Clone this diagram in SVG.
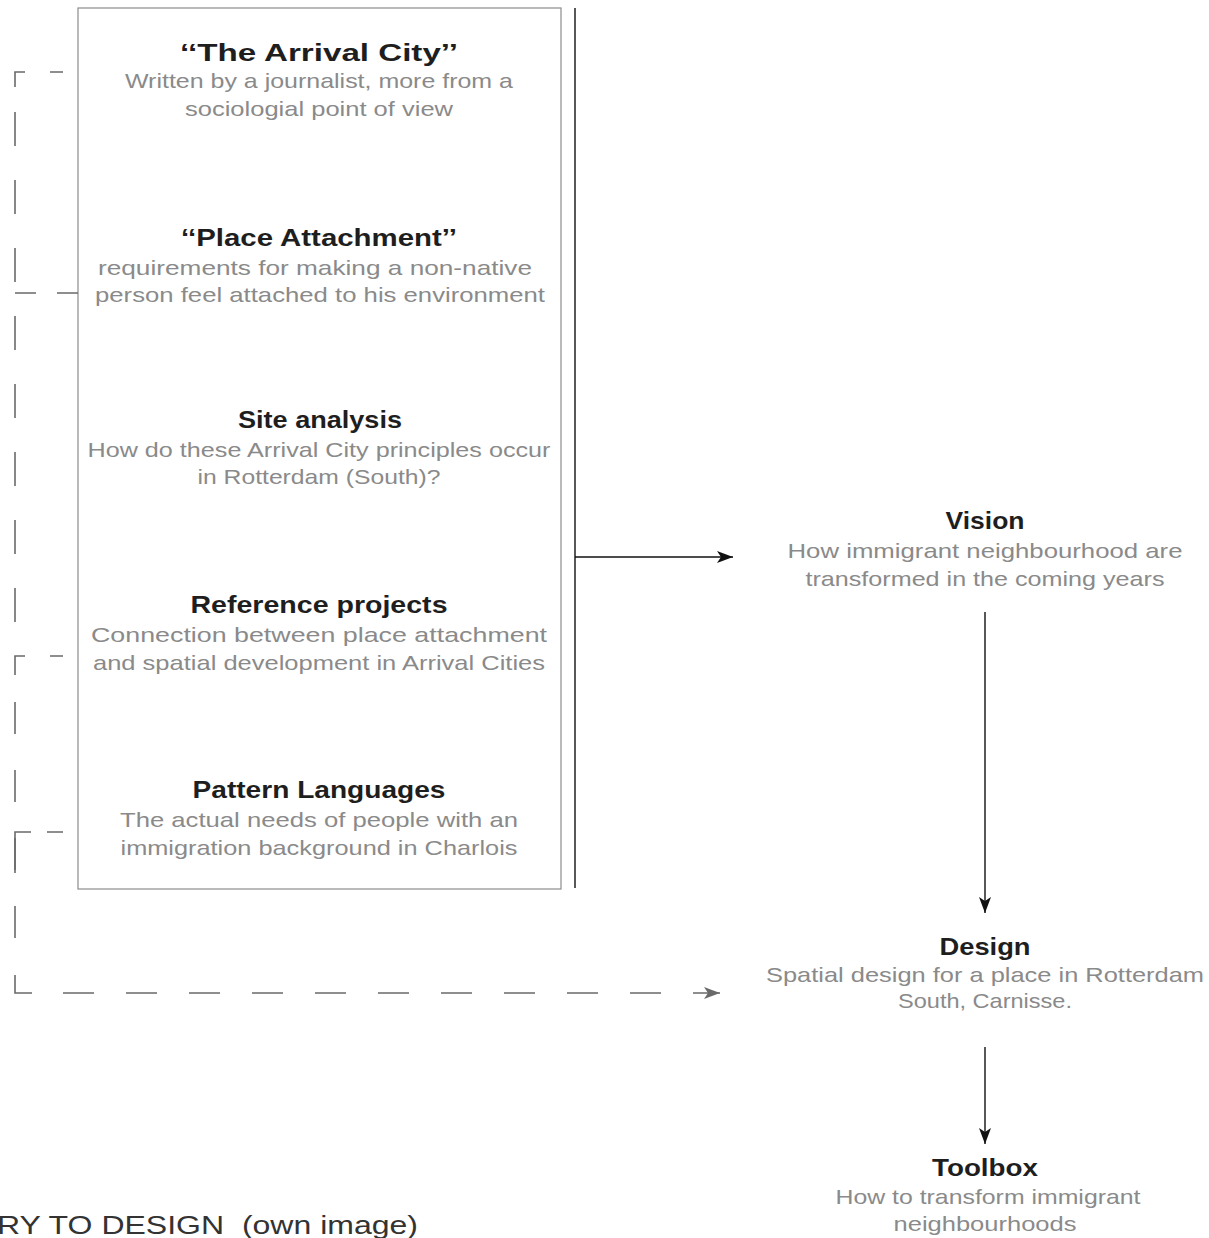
<svg xmlns="http://www.w3.org/2000/svg" width="1209" height="1238" viewBox="0 0 1209 1238">
<style>
.t{font-family:"Liberation Sans",Arial,sans-serif;font-weight:bold;font-size:24px;fill:#1e1e1e;text-anchor:middle}
.s{font-family:"Liberation Sans",Arial,sans-serif;font-size:21px;fill:#8a8a8a;text-anchor:middle}
.solid{fill:none;stroke:#111;stroke-width:1.4}
.dash{fill:none;stroke:#6a6a6a;stroke-width:1.6}
</style>
<defs>
<marker id="ah" markerWidth="18" markerHeight="12" refX="16" refY="6" orient="auto" markerUnits="userSpaceOnUse">
<path d="M0,0 L16,6 L0,12 L4,6 Z" fill="#111"/>
</marker>
<marker id="ahg" markerWidth="18" markerHeight="12" refX="16" refY="6" orient="auto" markerUnits="userSpaceOnUse">
<path d="M0,0 L16,6 L0,12 L4,6 Z" fill="#6a6a6a"/>
</marker>
</defs>
<rect x="78" y="8" width="483" height="881" fill="#fff" stroke="#8c8c8c" stroke-width="1.2"/>
<g id="connectors">
<line class="solid" x1="575" y1="8" x2="575" y2="888"/>
<line class="solid" x1="575" y1="557" x2="733" y2="557" marker-end="url(#ah)"/>
<line class="solid" x1="985" y1="612" x2="985" y2="913" marker-end="url(#ah)"/>
<line class="solid" x1="985" y1="1047" x2="985" y2="1144" marker-end="url(#ah)"/>
<path class="dash" d="M63,72 H50 M25,72 H15 V87"/>
<path class="dash" d="M15,112 V640" stroke-dasharray="34 34"/>
<path class="dash" d="M15,702 V940" stroke-dasharray="32 36"/>
<path class="dash" d="M15,975 V993 H32"/>
<path class="dash" d="M63,993 H720" stroke-dasharray="31 32" marker-end="url(#ahg)"/>
<path class="dash" d="M78,293 H15" stroke-dasharray="21 21"/>
<path class="dash" d="M63,656 H50 M25,656 H15 V675"/>
<path class="dash" d="M63,832 H15 V873" stroke-dasharray="16 16 60"/>
</g>
<g id="arrival-city">
<text class="t" x="319" y="61" textLength="278" lengthAdjust="spacingAndGlyphs">‘‘The Arrival City’’</text>
<text class="s" x="319" y="88" textLength="388" lengthAdjust="spacingAndGlyphs">Written by a journalist, more from a</text>
<text class="s" x="319" y="116" textLength="268" lengthAdjust="spacingAndGlyphs">sociologial point of view</text>
</g>
<g id="place-attachment">
<text class="t" x="319" y="246" textLength="276" lengthAdjust="spacingAndGlyphs">‘‘Place Attachment’’</text>
<text class="s" x="315" y="275" textLength="434" lengthAdjust="spacingAndGlyphs">requirements for making a non-native</text>
<text class="s" x="320" y="302" textLength="450" lengthAdjust="spacingAndGlyphs">person feel attached to his environment</text>
</g>
<g id="site-analysis">
<text class="t" x="320" y="428" textLength="164" lengthAdjust="spacingAndGlyphs">Site analysis</text>
<text class="s" x="319" y="457" textLength="463" lengthAdjust="spacingAndGlyphs">How do these Arrival City principles occur</text>
<text class="s" x="319" y="484" textLength="243" lengthAdjust="spacingAndGlyphs">in Rotterdam (South)?</text>
</g>
<g id="reference-projects">
<text class="t" x="319" y="613" textLength="257" lengthAdjust="spacingAndGlyphs">Reference projects</text>
<text class="s" x="319" y="642" textLength="456" lengthAdjust="spacingAndGlyphs">Connection between place attachment</text>
<text class="s" x="319" y="670" textLength="452" lengthAdjust="spacingAndGlyphs">and spatial development in Arrival Cities</text>
</g>
<g id="pattern-languages">
<text class="t" x="319" y="798" textLength="253" lengthAdjust="spacingAndGlyphs">Pattern Languages</text>
<text class="s" x="319" y="827" textLength="398" lengthAdjust="spacingAndGlyphs">The actual needs of people with an</text>
<text class="s" x="319" y="855" textLength="397" lengthAdjust="spacingAndGlyphs">immigration background in Charlois</text>
</g>
<g id="vision">
<text class="t" x="985" y="529" textLength="79" lengthAdjust="spacingAndGlyphs">Vision</text>
<text class="s" x="985" y="558" textLength="395" lengthAdjust="spacingAndGlyphs">How immigrant neighbourhood are</text>
<text class="s" x="985" y="586" textLength="359" lengthAdjust="spacingAndGlyphs">transformed in the coming years</text>
</g>
<g id="design">
<text class="t" x="985" y="955" textLength="91" lengthAdjust="spacingAndGlyphs">Design</text>
<text class="s" x="985" y="982" textLength="438" lengthAdjust="spacingAndGlyphs">Spatial design for a place in Rotterdam</text>
<text class="s" x="985" y="1008" textLength="174" lengthAdjust="spacingAndGlyphs">South, Carnisse.</text>
</g>
<g id="toolbox">
<text class="t" x="985" y="1176" textLength="106" lengthAdjust="spacingAndGlyphs">Toolbox</text>
<text class="s" x="988" y="1204" textLength="305" lengthAdjust="spacingAndGlyphs">How to transform immigrant</text>
<text class="s" x="985" y="1231" textLength="183" lengthAdjust="spacingAndGlyphs">neighbourhoods</text>
</g>
<text x="-3" y="1234" xml:space="preserve" textLength="421" lengthAdjust="spacingAndGlyphs" style="font-family:'Liberation Sans',Arial,sans-serif;font-size:25px;fill:#333">RY TO DESIGN  (own image)</text>
</svg>
